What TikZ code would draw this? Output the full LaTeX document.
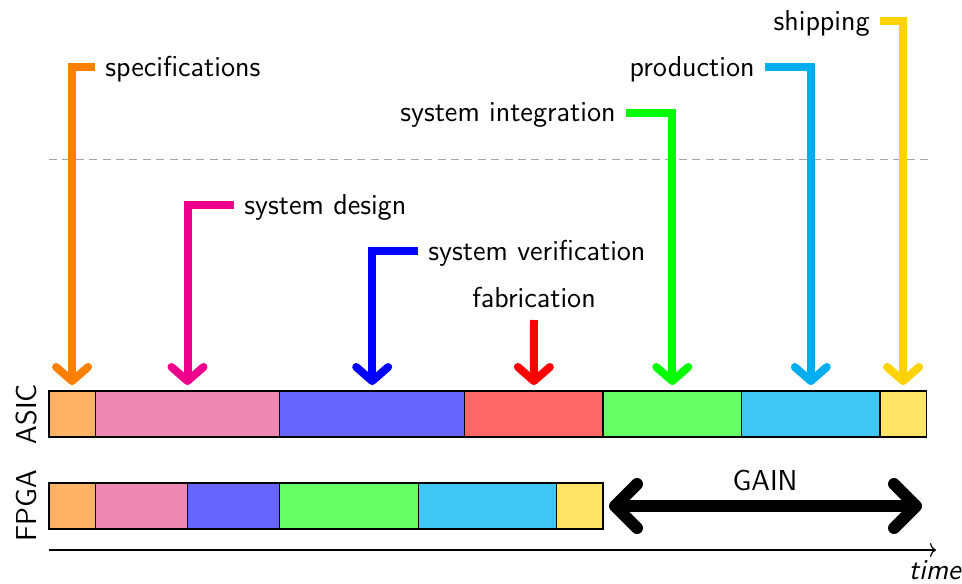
\documentclass[tikz,border=0pt]{standalone}
\usetikzlibrary{arrows.meta,positioning}
% line colours of the phase markers and the lighter fills of the bar segments
\definecolor{cOr}{RGB}{255,128,0}   \definecolor{fOr}{RGB}{255,178,102}
\definecolor{cMa}{RGB}{236,0,140}   \definecolor{fMa}{RGB}{240,136,180}
\definecolor{cBl}{RGB}{0,0,255}     \definecolor{fBl}{RGB}{102,102,255}
\definecolor{cRe}{RGB}{255,0,0}     \definecolor{fRe}{RGB}{255,102,102}
\definecolor{cGr}{RGB}{0,255,0}     \definecolor{fGr}{RGB}{102,255,102}
\definecolor{cCy}{RGB}{0,174,239}   \definecolor{fCy}{RGB}{64,198,242}
\definecolor{cYe}{RGB}{255,210,0}   \definecolor{fYe}{RGB}{255,228,102}
\begin{document}
\begin{tikzpicture}[x=0.5pt,y=-0.5pt,
  font=\sffamily\fontsize{14.4}{17}\selectfont,
  seg/.style={draw=black, line width=0.6pt, minimum height=23pt,
              inner sep=0pt, outer sep=0pt, anchor=west},
  lab/.style={inner sep=5pt, yshift=-1pt},
  arr/.style={line width=4pt, shorten >=3pt,
              -{Straight Barb[round,length=7pt,width=16pt]}},
  gain/.style={line width=6pt,
              {Straight Barb[round,length=11pt,width=22pt]}-{Straight Barb[round,length=11pt,width=22pt]}}]
\useasboundingbox (0,0) rectangle (962,583);
\def\U{23.085pt}

% ASIC flow
\node[seg, fill=fOr, minimum width=\U] (a1) at (49,414) {};
\node[seg, fill=fMa, minimum width=4*\U, right=0pt of a1] (a2) {};
\node[seg, fill=fBl, minimum width=4*\U, right=0pt of a2] (a3) {};
\node[seg, fill=fRe, minimum width=3*\U, right=0pt of a3] (a4) {};
\node[seg, fill=fGr, minimum width=3*\U, right=0pt of a4] (a5) {};
\node[seg, fill=fCy, minimum width=3*\U, right=0pt of a5] (a6) {};
\node[seg, fill=fYe, minimum width=\U, right=0pt of a6] (a7) {};

% FPGA flow
\node[seg, fill=fOr, minimum width=\U] (f1) at (49,506) {};
\node[seg, fill=fMa, minimum width=2*\U, right=0pt of f1] (f2) {};
\node[seg, fill=fBl, minimum width=2*\U, right=0pt of f2] (f3) {};
\node[seg, fill=fGr, minimum width=3*\U, right=0pt of f3] (f4) {};
\node[seg, fill=fCy, minimum width=3*\U, right=0pt of f4] (f5) {};
\node[seg, fill=fYe, minimum width=\U, right=0pt of f5] (f6) {};

\node[rotate=90] (asic) at (27,414) {ASIC};
\node[rotate=90] (fpga) at (27,506) {FPGA};

% separator
\coordinate (d0) at (49,159);
\coordinate (d1) at (930,159);
\draw[gray!70, line width=0.5pt, dash pattern=on 4pt off 2.7pt] (d0) -- (d1);

% phase markers
\coordinate (t1) at (95,67);
\node[lab, right=0pt of t1] (l1) {specifications};
\draw[arr, cOr] (t1) -| (a1.north);

\coordinate (t2) at (234,205);
\node[lab, right=0pt of t2] (l2) {system design};
\draw[arr, cMa] (t2) -| (a2.north);

\coordinate (t3) at (418,251);
\node[lab, right=0pt of t3] (l3) {system verification};
\draw[arr, cBl] (t3) -| (a3.north);

\coordinate (t4) at (534,320);
\node[inner sep=5pt, above=1pt of t4] (l4) {fabrication};
\draw[arr, cRe] (t4) -- (a4.north);

\coordinate (t5) at (626,113);
\node[lab, left=0pt of t5] (l5) {system integration};
\draw[arr, cGr] (t5) -| (a5.north);

\coordinate (t6) at (765,67);
\node[lab, left=0pt of t6] (l6) {production};
\draw[arr, cCy] (t6) -| (a6.north);

\coordinate (t7) at (880,21);
\node[lab, left=0pt of t7] (l7) {shipping};
\draw[arr, cYe] (t7) -| (a7.north);

% gain
\coordinate (g0) at (609,506);
\coordinate (g1) at (922,506);
\draw[gain] (g0) -- (g1);
\node (gl) at (765,480) {GAIN};

% time axis
\coordinate (x0) at (49,550);
\coordinate (x1) at (936,550);
\draw[line width=0.6pt, -{To[length=3pt,width=7pt]}] (x0) -- (x1);
\node[anchor=base east, inner sep=0pt, font=\sffamily\itshape\fontsize{14.4}{17}\selectfont] (tl) at (961,579) {time};
\end{tikzpicture}
\end{document}
